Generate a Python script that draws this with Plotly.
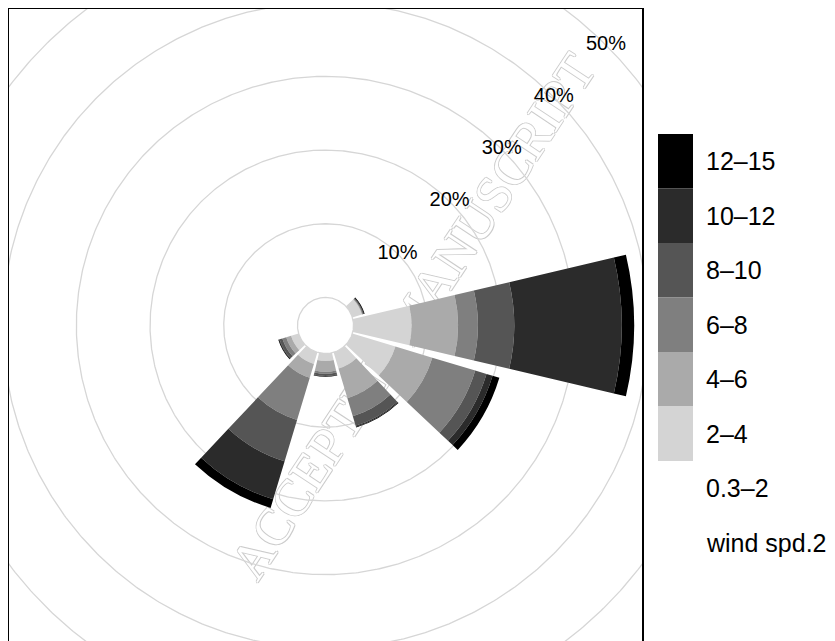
import numpy as np
import plotly.graph_objects as go

# ---------------- data ----------------
directions = [0, 30, 60, 90, 120, 150, 180, 210, 240, 270, 300, 330]
speed_bins = ["0.3–2", "2–4", "4–6", "6–8", "8–10", "10–12", "12–15"]
bin_colors = ["#ffffff", "#d4d4d4", "#aaaaaa", "#7f7f7f", "#555555", "#2b2b2b", "#000000"]

# frequency (%) per direction for each wind speed bin
freq_0_3_2 = [0, 0, 0.00, 0.00, 0.00, 0.00, 0.00, 0.00, 0.00, 0, 0, 0]
freq_2_4   = [0, 0, 1.35, 7.87, 6.10, 2.30, 1.01, 1.64, 1.07, 0, 0, 0]
freq_4_6   = [0, 0, 0.06, 6.31, 5.23, 4.20, 1.45, 1.95, 0.68, 0, 0, 0]
freq_6_8   = [0, 0, 0.07, 2.69, 6.08, 2.55, 0.27, 5.99, 0.55, 0, 0, 0]
freq_8_10  = [0, 0, 0.07, 4.93, 1.60, 1.35, 0.31, 5.85, 0.40, 0, 0, 0]
freq_10_12 = [0, 0, 0.07, 14.59, 0.86, 0.15, 0.07, 5.39, 0.07, 0, 0, 0]
freq_12_15 = [0, 0, 0.12, 1.68, 0.96, 0.10, 0.07, 1.22, 0.11, 0, 0, 0]

grid_pct = [10, 20, 30, 40, 50]
grid_labels = ["10%", "20%", "30%", "40%", "50%"]
legend_title = "wind spd.2"
watermark_text = "ACCEPTED MANUSCRIPT"

series = [freq_0_3_2, freq_2_4, freq_4_6, freq_6_8, freq_8_10, freq_10_12, freq_12_15]

# ---------------- layout constants ----------------
PAGE_OFF = 8              # page body margin in the browser
W, H = 827, 634
ML, MT, MB = 1, 1, 0
PW = 633
PH = H - MT - MB          # 633
MR = W - ML - PW
K = 7.37                  # pixels per percent
R_Y = PH / 2 / K
R_X = PW / 2 / K
label_angle = 45          # degrees (compass) for circle labels
sector_width = 26.5

cum = np.cumsum(np.array(series), axis=0)
mx = cum[-1].max()
off = 0.1 * mx            # hole offset (10% of max)

fig = go.Figure()

# grid circles (incl. hole circle) on cartesian axes
t = np.linspace(0, 2 * np.pi, 721)
for v in [0] + grid_pct:
    rr = off + v
    fig.add_trace(go.Scatter(x=rr * np.sin(t), y=rr * np.cos(t), mode="lines",
                             line=dict(color="#d6d6d6", width=1.3),
                             hoverinfo="skip", showlegend=False))

# circle labels
la = np.deg2rad(label_angle)
lab_r = off + np.array(grid_pct, dtype=float)
fig.add_trace(go.Scatter(x=lab_r * np.sin(la), y=lab_r * np.cos(la), mode="text",
                         text=grid_labels,
                         textfont=dict(family="Liberation Sans, Arial, sans-serif", size=20, color="black"),
                         hoverinfo="skip", showlegend=False))

# wind rose wedges (stacked barpolar with explicit base)
prev = np.zeros(len(directions))
for name, col, vals in zip(speed_bins, bin_colors, series):
    vals = np.array(vals, dtype=float)
    fig.add_trace(go.Barpolar(r=vals, theta=directions, base=off + prev,
                              width=[sector_width] * len(directions),
                              marker=dict(color=col, line=dict(width=0)),
                              name=name, showlegend=False, subplot="polar"))
    prev = prev + vals

# ---------------- axes ----------------
ax = dict(showgrid=False, zeroline=False, showticklabels=False, ticks="",
          showline=True, mirror=True, linecolor="black", linewidth=1.5,
          fixedrange=True)
fig.update_layout(
    width=W, height=H,
    margin=dict(l=ML, r=MR, t=MT, b=MB, pad=0),
    paper_bgcolor="white", plot_bgcolor="white",
    xaxis=dict(range=[-R_X, R_X], domain=[0, 1], **ax),
    yaxis=dict(range=[-R_Y, R_Y], domain=[0, 1], **ax),
    polar=dict(domain=dict(x=[0, 1], y=[0, 1]), bgcolor="rgba(0,0,0,0)",
               barmode="overlay", hole=0,
               radialaxis=dict(range=[0, R_Y], visible=False, showgrid=False,
                               showline=False, showticklabels=False, ticks=""),
               angularaxis=dict(rotation=90, direction="clockwise", visible=False,
                                showgrid=False, showline=False, showticklabels=False,
                                ticks="")),
    showlegend=False,
)

# ---------------- key (legend) ----------------
def px_x(px):
    return (px - PAGE_OFF - ML) / PW

def px_y(py):
    return 1 - (py - PAGE_OFF - MT) / PH

key_x0, key_x1 = 658, 693
key_top, key_h = 134, 54.5
font_key = dict(family="Liberation Sans, Arial, sans-serif", size=25, color="black")
for i, (name, col) in enumerate(zip(speed_bins[::-1], bin_colors[::-1])):
    y0 = key_top + i * key_h
    fig.add_shape(type="rect", xref="paper", yref="paper",
                  x0=px_x(key_x0), x1=px_x(key_x1), y0=px_y(y0), y1=px_y(y0 + key_h),
                  fillcolor=col, line=dict(width=0), layer="above")
    fig.add_annotation(xref="paper", yref="paper", x=px_x(704), y=px_y(y0 + key_h / 2),
                       text=name, showarrow=False, xanchor="left", yanchor="middle",
                       font=font_key)
fig.add_annotation(xref="paper", yref="paper", x=px_x(704),
                   y=px_y(key_top + 7 * key_h + 27.5),
                   text=legend_title, showarrow=False, xanchor="left", yanchor="middle",
                   font=font_key)

# ---------------- watermark (below everything) ----------------
cx, cy = 408, 313
ang = 56.5
hl = 100
dx, dy = hl * np.cos(np.deg2rad(ang)), hl * np.sin(np.deg2rad(ang))
wm_font = dict(family="Liberation Serif, Times New Roman, serif", size=52, color="white",
               shadow="1px 0 0 #cccccc, -1px 0 0 #cccccc, 0 1px 0 #cccccc, 0 -1px 0 #cccccc")
try:
    lab = dict(text=watermark_text, textangle=-ang, font=wm_font,
               textposition="middle", yanchor="middle")
    fig.add_shape(type="line", xref="paper", yref="paper",
                  x0=px_x(cx - dx), y0=px_y(cy + dy), x1=px_x(cx + dx), y1=px_y(cy - dy),
                  line=dict(color="rgba(0,0,0,0)", width=0), layer="below", label=lab)
except ValueError:
    wm_font.pop("shadow")
    wm_font["color"] = "#e4e4e4"
    lab = dict(text=watermark_text, textangle=-ang, font=wm_font,
               textposition="middle", yanchor="middle")
    fig.add_shape(type="line", xref="paper", yref="paper",
                  x0=px_x(cx - dx), y0=px_y(cy + dy), x1=px_x(cx + dx), y1=px_y(cy - dy),
                  line=dict(color="rgba(0,0,0,0)", width=0), layer="below", label=lab)

fig.write_html("out.html")
